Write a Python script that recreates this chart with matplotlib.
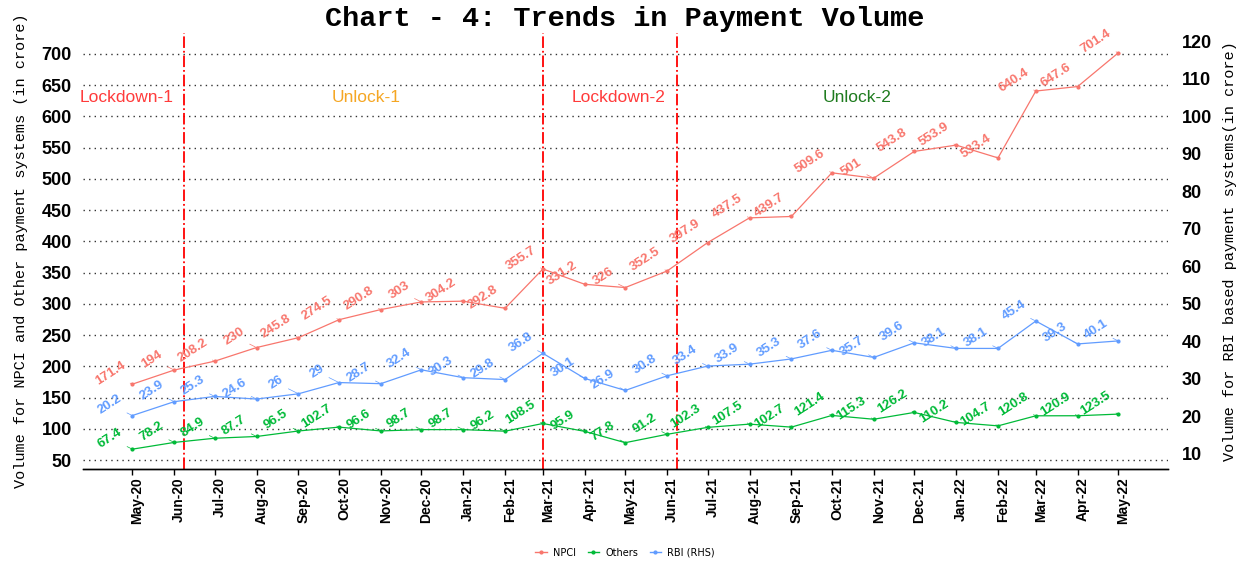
import pandas as pd
import matplotlib
matplotlib.use("Agg")
import matplotlib.pyplot as plt
import matplotlib.dates as mdates
from matplotlib.lines import Line2D
from matplotlib.transforms import ScaledTranslation

months = ["May-20", "Jun-20", "Jul-20", "Aug-20", "Sep-20", "Oct-20", "Nov-20",
          "Dec-20", "Jan-21", "Feb-21", "Mar-21", "Apr-21", "May-21", "Jun-21",
          "Jul-21", "Aug-21", "Sep-21", "Oct-21", "Nov-21", "Dec-21", "Jan-22",
          "Feb-22", "Mar-22", "Apr-22", "May-22"]
npci = [171.4, 194, 208.2, 230, 245.8, 274.5, 290.8, 303, 304.2, 292.8, 355.7,
        331.2, 326, 352.5, 397.9, 437.5, 439.7, 509.6, 501, 543.8, 553.9, 533.4,
        640.4, 647.6, 701.4]
others = [67.4, 78.2, 84.9, 87.7, 96.5, 102.7, 96.6, 98.7, 98.7, 96.2, 108.5,
          95.9, 77.8, 91.2, 102.3, 107.5, 102.7, 121.4, 115.3, 126.2, 110.2,
          104.7, 120.8, 120.9, 123.5]
rbi = [20.2, 23.9, 25.3, 24.6, 26, 29, 28.7, 32.4, 30.3, 29.8, 36.8, 30.1, 26.9,
       30.8, 33.4, 33.9, 35.3, 37.6, 35.7, 39.6, 38.1, 38.1, 45.4, 39.3, 40.1]

phase_breaks = ["2020-06-08", "2021-03-01", "2021-06-08"]
phase_names = ["Lockdown-1", "Unlock-1", "Lockdown-2", "Unlock-2"]
phase_label_dates = ["2020-04-27", "2020-10-21", "2021-04-26", "2021-10-20"]
phase_colors = ["#FF3B3B", "#F5A623", "#FF3B3B", "#1E7B1E"]
phase_label_y = 630

RBI_SCALE = 6
dates = pd.to_datetime(months, format="%b-%y")

C_NPCI, C_OTH, C_RBI = "#F8766D", "#00BA38", "#619CFF"

fig = plt.figure(figsize=(12.5, 5.61), dpi=100)
ax = fig.add_axes([0.0664, 0.164, 0.8676, 0.777])
ax2 = ax.twinx()

# y limits like ggplot's 5% expansion
ylo, yhi = 35.7, 733.1
ax.set_ylim(ylo, yhi)
ax2.set_ylim(ylo / RBI_SCALE, yhi / RBI_SCALE)
pad = pd.Timedelta(days=36.5)
ax.set_xlim(dates[0] - pad, dates[-1] + pad)

for y in range(50, 701, 50):
    ax.axhline(y, color="#333333", lw=1.0, ls=(0, (1, 3)), zorder=0)

for d in phase_breaks:
    ax.axvline(pd.Timestamp(d), color="red", lw=1.3, ls="-.", zorder=1)
for name, d, c in zip(phase_names, phase_label_dates, phase_colors):
    ax.text(pd.Timestamp(d), phase_label_y, name, color=c, fontsize=12.5,
            ha="center", va="center", family="Liberation Sans")

ax.plot(dates, npci, color=C_NPCI, lw=0.9, marker="o", ms=2, zorder=3)
ax.plot(dates, others, color=C_OTH, lw=0.9, marker="o", ms=2, zorder=3)
ax2.plot(dates, rbi, color=C_RBI, lw=0.9, marker="o", ms=2, zorder=3)


def label_points(axis, xs, ys, color):
    for x, y in zip(xs, ys):
        axis.annotate(f"{y:g}", xy=(x, y), xytext=(-16, 8), textcoords="offset points",
                      rotation=33, ha="center", va="center", fontsize=9.5,
                      fontweight="bold", color=color, family="Liberation Sans",
                      arrowprops=dict(arrowstyle="-", lw=0.5, color=color,
                                      shrinkA=0, shrinkB=1))


label_points(ax, dates, npci, C_NPCI)
label_points(ax, dates, others, C_OTH)
label_points(ax2, dates, rbi, C_RBI)

ax.set_yticks(range(50, 701, 50))
ax2.set_yticks(range(10, 121, 10))
ax.set_xticks(dates)
ax.xaxis.set_major_formatter(mdates.DateFormatter("%b-%y"))
ax.tick_params(axis="x", length=4, width=1, direction="out", labelrotation=90,
               labelsize=10, pad=2)
ax.tick_params(axis="y", length=0, labelsize=13, pad=8)
ax2.tick_params(axis="y", length=0, labelsize=13, pad=10)
for lab in ax.get_xticklabels():
    lab.set_fontweight("bold")
    lab.set_family("Liberation Sans")
    lab.set_transform(lab.get_transform() + ScaledTranslation(5 / 100, 0, fig.dpi_scale_trans))
for lab in ax.get_yticklabels() + ax2.get_yticklabels():
    lab.set_fontweight("bold")
    lab.set_family("Liberation Sans")

for a in (ax, ax2):
    for s in ("top", "left", "right"):
        a.spines[s].set_visible(False)
    a.spines["bottom"].set_linewidth(1.0)

ax.set_ylabel("Volume for NPCI and Other payment systems (in crore)",
              family="Liberation Mono", fontsize=11, labelpad=10)
ax2.set_ylabel("Volume for RBI based payment systems(in crore)",
               family="Liberation Mono", fontsize=11, labelpad=8)
fig.suptitle("Chart - 4: Trends in Payment Volume", family="Liberation Mono",
             fontweight="bold", fontsize=20.5, y=0.99)

handles = [Line2D([], [], color=c, lw=1, marker="o", ms=2) for c in (C_NPCI, C_OTH, C_RBI)]
fig.legend(handles, ["NPCI", "Others", "RBI (RHS)"], loc="lower center", ncol=3,
           frameon=False, fontsize=7, bbox_to_anchor=(0.5, -0.01), handlelength=1.2,
           columnspacing=1.2, handletextpad=0.6)

fig.savefig("out.png", dpi=100)
